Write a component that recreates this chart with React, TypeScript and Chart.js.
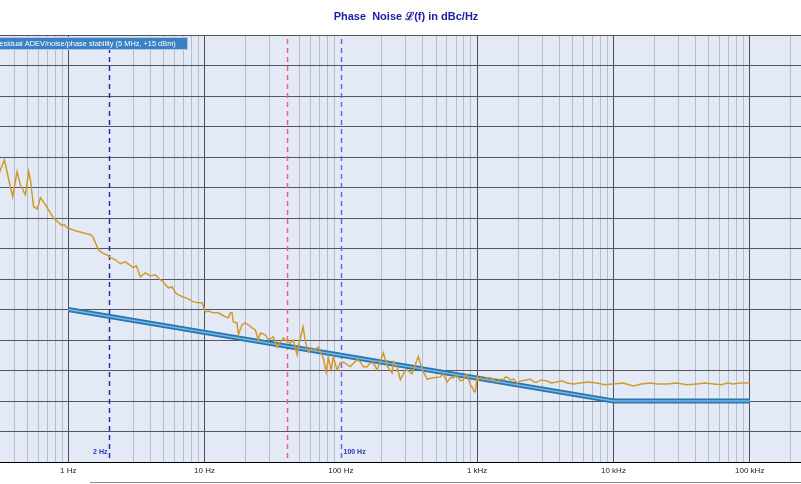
import { useEffect, useRef } from 'react';
import { Chart, registerables } from 'chart.js';

Chart.register(...registerables);

const titleText = 'Phase  Noise \u2112(f) in dBc/Hz';
const legendText = 'Residual ADEV/noise/phase stability (5 MHz, +15 dBm)';

// Measured phase noise trace (offset frequency in Hz, level in dBc/Hz)
const traceFreqHz = [
  0.30, 0.318, 0.340, 0.363, 0.391, 0.421, 0.445, 0.484, 0.512, 0.527, 0.557, 0.593, 0.624, 0.679,
  0.777, 0.832, 0.901, 0.936, 0.98, 1.127, 1.453, 1.52, 1.663, 1.809, 1.926, 2.037, 2.216, 2.411,
  2.624, 3.003, 3.159, 3.381, 3.679, 4.003, 4.355, 4.739, 4.985, 5.157, 5.427, 5.775, 6.107, 6.424,
  6.99, 7.605, 8.277, 9.005, 9.587, 10.14, 10.66, 11.6, 12.63, 13.44, 14.21, 14.95, 15.46, 15.91,
  16.27, 17.31, 17.7, 18.84, 19.93, 20.96, 22.31, 23.59, 24.81, 25.67, 27.93, 29.38, 31.97, 34.03,
  35.98, 37.86, 40.3, 42.62, 44.83, 47.72, 49.61, 52.82, 54.91, 57.76, 61.47, 65.01, 68.39, 74.4,
  77.88, 80.97, 84.74, 88.1, 93.8, 99.2, 104.3, 117.4, 131.5, 139, 146.3, 155.7, 164.6, 173.2,
  184.4, 205, 218.3, 237.5, 242.8, 258.4, 273.3, 297.3, 306, 333, 370.3, 394.1, 429, 477, 537, 565,
  601.4, 636, 669, 712, 753, 792, 819, 843, 891, 918, 954, 970, 998, 1020, 1055, 1110, 1182, 1250,
  1400, 1480, 1557, 1620, 1694, 1752, 1850, 1962, 2100, 2323, 2457, 2600, 2751, 2950, 3256, 3500,
  3857, 4200, 4566, 5100, 5716, 6500, 7580, 8600, 9984, 11820, 13000, 14000, 16000, 18650, 21000,
  24740, 29000, 34670, 41000, 47000, 54070, 62000, 69000, 75800, 85000, 95550, 100000,
];
const traceDbc = [
  -67.0, -64.2, -60.9, -66.8, -73.0, -64.8, -69.1, -72.4, -64.8, -67.4, -76.3, -77.0, -73.3, -75.6,
  -79.9, -81.2, -82.5, -82.2, -83.2, -84.2, -85.5, -86.2, -90.4, -91.7, -92.1, -93.0, -93.7, -95.0,
  -94.4, -96.3, -95.7, -99.3, -98.0, -99.0, -98.6, -100.3, -100.9, -101.9, -102.9, -102.6, -104.5, -105.2,
  -105.9, -106.5, -107.5, -107.8, -107.8, -110.8, -110.5, -111.1, -111.1, -111.8, -112.4, -112.7, -111.1, -111.1,
  -114.1, -114.4, -118.3, -115.0, -114.4, -115.0, -116.0, -116.7, -120.0, -117.7, -118.3, -120.0, -119.0, -122.3,
  -120.6, -119.3, -120.6, -121.0, -120.0, -124.9, -120.6, -115.7, -120.6, -123.9, -122.6, -123.3, -122.3, -125.9,
  -130.5, -125.9, -129.8, -125.6, -129.8, -127.5, -127.2, -128.7, -126.5, -127.2, -128.8, -128.8, -127.5, -127.5,
  -129.8, -124.2, -128.5, -130.8, -127.2, -128.8, -133.1, -129.8, -129.8, -131.1, -125.4, -129.5, -132.8, -132.4, -132.1, -131.2,
  -133.8, -132.4, -132.4, -131.5, -133.4, -133.1, -131.5, -131.5, -134.7, -135.4, -137.0, -137.0, -132.1, -133.1, -132.4, -133.1, -132.4, -132.4,
  -133.8, -132.8, -133.1, -132.1, -132.4, -133.1, -132.8, -134.1, -133.4, -133.1, -132.8, -133.8, -133.8, -133.1, -133.4, -134.1,
  -133.8, -133.4, -134.1, -134.4, -134.1, -133.8, -134.1, -134.7, -134.4, -134.1, -134.7, -135.1, -134.4, -134.1, -134.4,
  -134.4, -134.1, -134.7, -134.4, -134.1, -134.4, -134.7, -134.1, -134.4, -134.1, -134.1, -133.8,
];

// Reference (specification) line
const refFreqHz = [1, 10000, 100000];
const refDbc = [-110, -140, -140];

// Axes
const decadeTicks = [0.1, 1, 10, 100, 1000, 10000, 100000, 1000000];
const decadeLabels = ['0.1 Hz', '1 Hz', '10 Hz', '100 Hz', '1 kHz', '10 kHz', '100 kHz', '1 MHz'];
const yMin = -160;
const yMax = -20;

// Vertical markers
const markerFreqs = [2, 40, 100];
const markerLabels = ['2 Hz', '', '100 Hz'];
const markerColors = ['#2a2ab8', '#f0607a', '#6a6ae6'];

const PLOT_BG = '#e4eaf5';

const decadeIndex = (v: number) => decadeTicks.findIndex((d) => Math.abs(v / d - 1) < 1e-6);
const isMarker = (v: number) => markerFreqs.some((m) => Math.abs(v / m - 1) < 1e-6);

const overlayPlugin = {
  id: 'overlay',
  beforeDraw(chart: any) {
    const { ctx, chartArea } = chart;
    ctx.save();
    ctx.fillStyle = PLOT_BG;
    ctx.fillRect(chartArea.left, chartArea.top, chartArea.right - chartArea.left, chartArea.bottom - chartArea.top);
    ctx.restore();
  },
  beforeDatasetsDraw(chart: any) {
    const { ctx, chartArea, scales } = chart;
    markerFreqs.forEach((f, i) => {
      const xc = Math.round(scales.x.getPixelForValue(f));
      const x = xc + 0.5;
      ctx.save();
      ctx.strokeStyle = markerColors[i];
      ctx.lineWidth = 1.5;
      ctx.setLineDash([5, 4]);
      ctx.beginPath();
      ctx.moveTo(x, chartArea.top + 4);
      ctx.lineTo(x, chartArea.bottom);
      ctx.stroke();
      ctx.restore();
      if (markerLabels[i]) {
        ctx.save();
        ctx.fillStyle = '#3232c0';
        ctx.font = 'bold 7px "Liberation Sans", Arial, sans-serif';
        ctx.textBaseline = 'middle';
        if (i === 0) {
          ctx.textAlign = 'right';
          ctx.fillText(markerLabels[i], x - 2, chartArea.bottom - 10);
        } else {
          ctx.textAlign = 'left';
          ctx.fillText(markerLabels[i], x + 2, chartArea.bottom - 10);
        }
        ctx.restore();
      }
    });
  },
  afterDraw(chart: any) {
    const { ctx, chartArea, width } = chart;
    ctx.save();
    // legend box
    ctx.font = '7.4px "Liberation Sans", Arial, sans-serif';
    const textLeft = chartArea.left + 62;
    const boxLeft = textLeft - 4;
    const boxRight = chartArea.left + 256;
    ctx.fillStyle = '#3b80c2';
    ctx.fillRect(boxLeft, 37, boxRight - boxLeft, 13);
    ctx.strokeStyle = '#a9c9e8';
    ctx.lineWidth = 1;
    ctx.strokeRect(boxLeft + 0.5, 37.5, boxRight - boxLeft - 1, 12);
    ctx.fillStyle = '#ffffff';
    ctx.textAlign = 'left';
    ctx.textBaseline = 'middle';
    ctx.fillText(chart.data.datasets[0].label, textLeft, 43.5);
    // bottom rule
    ctx.strokeStyle = '#8c8c8c';
    ctx.beginPath();
    ctx.moveTo(218, 482.5);
    ctx.lineTo(width, 482.5);
    ctx.stroke();
    ctx.restore();
  },
};

export default function App() {
  const ref = useRef<HTMLCanvasElement | null>(null);

  useEffect(() => {
    if (!ref.current) return;
    const minorTicks: { value: number }[] = [];
    for (let d = 0; d < decadeTicks.length - 1; d++) {
      for (let k = 1; k <= 9; k++) minorTicks.push({ value: decadeTicks[d] * k });
    }
    minorTicks.push({ value: decadeTicks[decadeTicks.length - 1] });

    const chart = new Chart(ref.current, {
      type: 'line',
      data: {
        datasets: [
          {
            label: legendText,
            data: traceFreqHz.map((f, i) => ({ x: f, y: traceDbc[i] })),
            borderColor: '#d09a2e',
            borderWidth: 1.5,
            pointRadius: 0,
            tension: 0,
          },
          {
            label: 'ref-inner',
            data: refFreqHz.map((f, i) => ({ x: f, y: refDbc[i] })),
            borderColor: '#74b8e6',
            borderWidth: 1.5,
            pointRadius: 0,
            tension: 0,
          },
          {
            label: 'ref',
            data: refFreqHz.map((f, i) => ({ x: f, y: refDbc[i] })),
            borderColor: '#2a74b0',
            borderWidth: 5,
            pointRadius: 0,
            tension: 0,
          },
        ],
      },
      options: {
        animation: false,
        responsive: false,
        events: [],
        layout: { padding: 0 },
        plugins: {
          legend: { display: false },
          tooltip: { enabled: false },
          title: {
            display: true,
            text: titleText,
            color: '#2020a4',
            font: { family: '"Liberation Sans", Arial, sans-serif', size: 11, weight: 'bold' },
            padding: { top: 10, bottom: 11.8 },
          },
        },
        scales: {
          x: {
            type: 'logarithmic',
            min: decadeTicks[0],
            max: decadeTicks[decadeTicks.length - 1],
            afterBuildTicks: (s: any) => {
              s.ticks = minorTicks.map((t) => ({ value: t.value }));
            },
            afterFit: (s: any) => {
              s.height = 22;
            },
            grid: {
              color: (c: any) => {
                const v = c.tick ? c.tick.value : NaN;
                if (isMarker(v)) return 'rgba(0,0,0,0)';
                return decadeIndex(v) >= 0 ? '#4f4f60' : '#b6becd';
              },
              drawTicks: false,
              lineWidth: 1,
            },
            border: { display: true, color: '#000000', width: 1 },
            ticks: {
              autoSkip: false,
              maxRotation: 0,
              minRotation: 0,
              padding: 4,
              color: '#222222',
              font: { family: '"Liberation Sans", Arial, sans-serif', size: 8 },
              callback: (v: any) => {
                const i = decadeIndex(Number(v));
                return i >= 0 ? decadeLabels[i] : '';
              },
            },
          },
          y: {
            type: 'linear',
            min: yMin,
            max: yMax,
            afterFit: (s: any) => {
              s.width = 60;
            },
            grid: { color: '#55555f', drawTicks: false, lineWidth: 1 },
            border: { display: false },
            ticks: {
              stepSize: 10,
              color: '#222222',
              font: { family: '"Liberation Sans", Arial, sans-serif', size: 8 },
            },
          },
          yR: {
            type: 'linear',
            position: 'right',
            afterFit: (s: any) => {
              s.width = 54;
            },
            grid: { display: false, drawTicks: false },
            border: { display: false },
            ticks: { display: false },
          },
        },
      } as any,
      plugins: [overlayPlugin],
    });
    return () => chart.destroy();
  }, []);

  return (
    <div
      style={{
        position: 'absolute',
        left: 0,
        top: 0,
        width: 801,
        height: 484,
        overflow: 'hidden',
        background: '#ffffff',
      }}
    >
      <canvas
        ref={ref}
        width={1068}
        height={484}
        style={{ position: 'absolute', left: -128, top: 0, width: 1068, height: 484 }}
      />
    </div>
  );
}
